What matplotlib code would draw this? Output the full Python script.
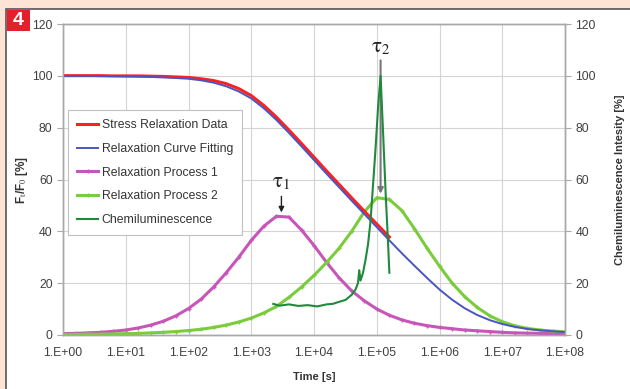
import matplotlib

matplotlib.use("Agg")
import matplotlib.pyplot as plt
import numpy as np
from matplotlib.patches import Rectangle
from matplotlib.ticker import FixedLocator, FuncFormatter, NullLocator

plt.rcParams["font.family"] = ["Liberation Sans", "DejaVu Sans"]
plt.rcParams["mathtext.fontset"] = "stix"

# sample grid: log10(time) every 0.2 decade
log_t = np.round(np.arange(0, 8.01, 0.2), 1)

stress_data = [100.1, 100.1, 100.1, 100.1, 100.0, 100.0, 100.0, 99.9, 99.8, 99.6,
               99.4, 98.9, 98.2, 97.0, 95.1, 92.4, 88.6, 84.1, 79.1, 73.9,
               68.6, 63.3, 58.1, 52.9, 47.8, 42.8, 37.8]

curve_fit = [100.0, 100.0, 100.0, 99.9, 99.9, 99.8, 99.7, 99.6, 99.4, 99.2,
             98.9, 98.3, 97.4, 96.0, 94.0, 91.3, 87.5, 83.0, 78.0, 72.8,
             67.5, 62.2, 57.0, 51.8, 46.7, 41.6, 36.5, 31.5, 26.7, 22.0,
             17.5, 13.6, 10.3, 7.7, 5.7, 4.2, 3.1, 2.3, 1.8, 1.4, 1.1]

process_1 = [0.5, 0.6, 0.8, 1.0, 1.4, 1.9, 2.7, 3.8, 5.3, 7.4,
             10.2, 13.8, 18.5, 24.0, 30.0, 36.5, 42.0, 45.8, 45.5, 40.5,
             34.5, 28.0, 22.0, 17.0, 13.2, 10.0, 7.6, 5.8, 4.5, 3.6,
             2.9, 2.4, 1.9, 1.6, 1.3, 1.0, 0.8, 0.7, 0.6, 0.5, 0.4]

process_2 = [0.2, 0.2, 0.3, 0.3, 0.4, 0.5, 0.6, 0.8, 1.0, 1.3,
             1.7, 2.2, 2.9, 3.8, 5.0, 6.5, 8.5, 11.0, 14.5, 18.5,
             23.0, 28.0, 33.5, 40.0, 47.5, 53.0, 52.3, 48.0, 41.0, 33.5,
             26.5, 20.0, 14.8, 10.6, 7.4, 5.1, 3.5, 2.5, 1.9, 1.5, 1.2]

chemi_log_t = [3.35, 3.45, 3.6, 3.75, 3.9, 4.05, 4.2, 4.3, 4.4, 4.5,
               4.6, 4.66, 4.7, 4.72, 4.74, 4.78, 4.82, 4.86, 4.9, 4.94,
               4.98, 5.02, 5.06, 5.1, 5.14, 5.18, 5.2]
chemi = [12.0, 11.3, 11.8, 11.2, 11.5, 11.0, 11.8, 12.0, 12.8, 13.5,
         15.5, 17.5, 20.0, 25.0, 21.0, 24.0, 29.0, 35.0, 44.0, 58.0,
         72.0, 88.0, 100.0, 78.0, 55.0, 35.0, 24.0]

time = 10.0 ** log_t
chemi_time = 10.0 ** np.array(chemi_log_t)

fig = plt.figure(figsize=(6.3, 3.89), dpi=100, facecolor="#fde4d4")
fig.patches.append(Rectangle((6 / 630, -0.1), 1.2, 1.1 - 9 / 389,
                             transform=fig.transFigure, facecolor="white",
                             edgecolor="#555555", linewidth=1.2, zorder=-2))
fig.patches.append(Rectangle((7 / 630, 1 - 31 / 389), 23 / 630, 21 / 389,
                             transform=fig.transFigure, facecolor="#e4202a",
                             edgecolor="none", zorder=-1))
fig.text(18.5 / 630, 1 - 20.5 / 389, "4", color="white", fontsize=14,
         fontweight="bold", ha="center", va="center")

ax = fig.add_axes([0.1, 0.139, 0.797, 0.799])
ax.set_facecolor("none")
ax2 = ax.twinx()

grey = "#a8a8a8"
txt = "#404040"

h1, = ax.plot(time[:len(stress_data)], stress_data, color="#ff2020", lw=2.2,
              label="Stress Relaxation Data", zorder=4)
h2, = ax.plot(time, curve_fit, color="#4a55c0", lw=1.4,
              label="Relaxation Curve Fitting", zorder=5)
h3, = ax.plot(time, process_1, color="#c855b8", lw=2.2, marker="+", ms=3.5,
              mew=1.0, label="Relaxation Process 1", zorder=3)
h4, = ax.plot(time, process_2, color="#7acc3c", lw=2.2, marker="+", ms=3.5,
              mew=1.0, label="Relaxation Process 2", zorder=3)
h5, = ax2.plot(chemi_time, chemi, color="#1f8a3c", lw=1.5,
               label="Chemiluminescence")

ax.set_xscale("log")
ax.set_xlim(1, 1e8)
ax.set_ylim(0, 120)
ax2.set_ylim(0, 120)
ax.xaxis.set_major_locator(FixedLocator([10.0 ** k for k in range(9)]))
ax.xaxis.set_minor_locator(NullLocator())
ax.xaxis.set_major_formatter(FuncFormatter(lambda v, p: "1.E+%02d" % round(np.log10(v))))
ax.set_yticks(np.arange(0, 121, 20))
ax2.set_yticks(np.arange(0, 121, 20))

ax.grid(True, color="#d4d4d4", lw=0.8)
for a in (ax, ax2):
    for s in a.spines.values():
        s.set_color(grey)
        s.set_linewidth(1.0)
    a.tick_params(colors=grey, labelcolor=txt, labelsize=8.8, length=4, width=0.8)
ax.tick_params(axis="x", length=0, pad=9)

ax.set_xlabel("Time [s]", fontsize=8, fontweight="bold", color="#333333", labelpad=9)
ax.set_ylabel(r"F$_{\rm t}$/F$_{\rm 0}$ [%]", fontsize=8.5, fontweight="bold",
              color="#333333")
ax.yaxis.set_label_coords(-0.066, 0.5)
ax2.set_ylabel("Chemiluminescence Intesity [%]", fontsize=8, fontweight="bold",
               color="#333333", rotation=90)
ax2.yaxis.set_label_coords(1.1, 0.5)

# tau annotations
ax.text(10 ** 3.48, 58.8, r"$\mathrm{\tau}_{1}$", fontsize=15, ha="center",
        va="center", color="#222222")
ax.annotate("", xy=(10 ** 3.48, 47.3), xytext=(10 ** 3.48, 53.5),
            arrowprops=dict(arrowstyle="-|>", color="#222222", lw=1.0,
                            mutation_scale=8, shrinkA=0, shrinkB=0))
ax.text(10 ** 5.06, 110.8, r"$\mathrm{\tau}_{2}$", fontsize=15, ha="center",
        va="center", color="#222222")
ax.annotate("", xy=(10 ** 5.06, 54.5), xytext=(10 ** 5.06, 106.0),
            arrowprops=dict(arrowstyle="-|>", color="#777777", lw=1.5,
                            mutation_scale=8, shrinkA=0, shrinkB=0), zorder=2)

leg = ax.legend(handles=[h1, h2, h3, h4, h5], loc="upper left",
                bbox_to_anchor=(0.01, 0.723), borderaxespad=0, fontsize=8.8,
                frameon=True, fancybox=False, edgecolor="#c0c0c0", framealpha=1,
                handlelength=1.7, handletextpad=0.3, labelspacing=0.95,
                borderpad=0.75, markerscale=0.8)
leg.get_frame().set_linewidth(0.8)
for t in leg.get_texts():
    t.set_color("#333333")
leg.set_zorder(10)

fig.savefig("out.png", dpi=100, facecolor=fig.get_facecolor())
plt.close(fig)
